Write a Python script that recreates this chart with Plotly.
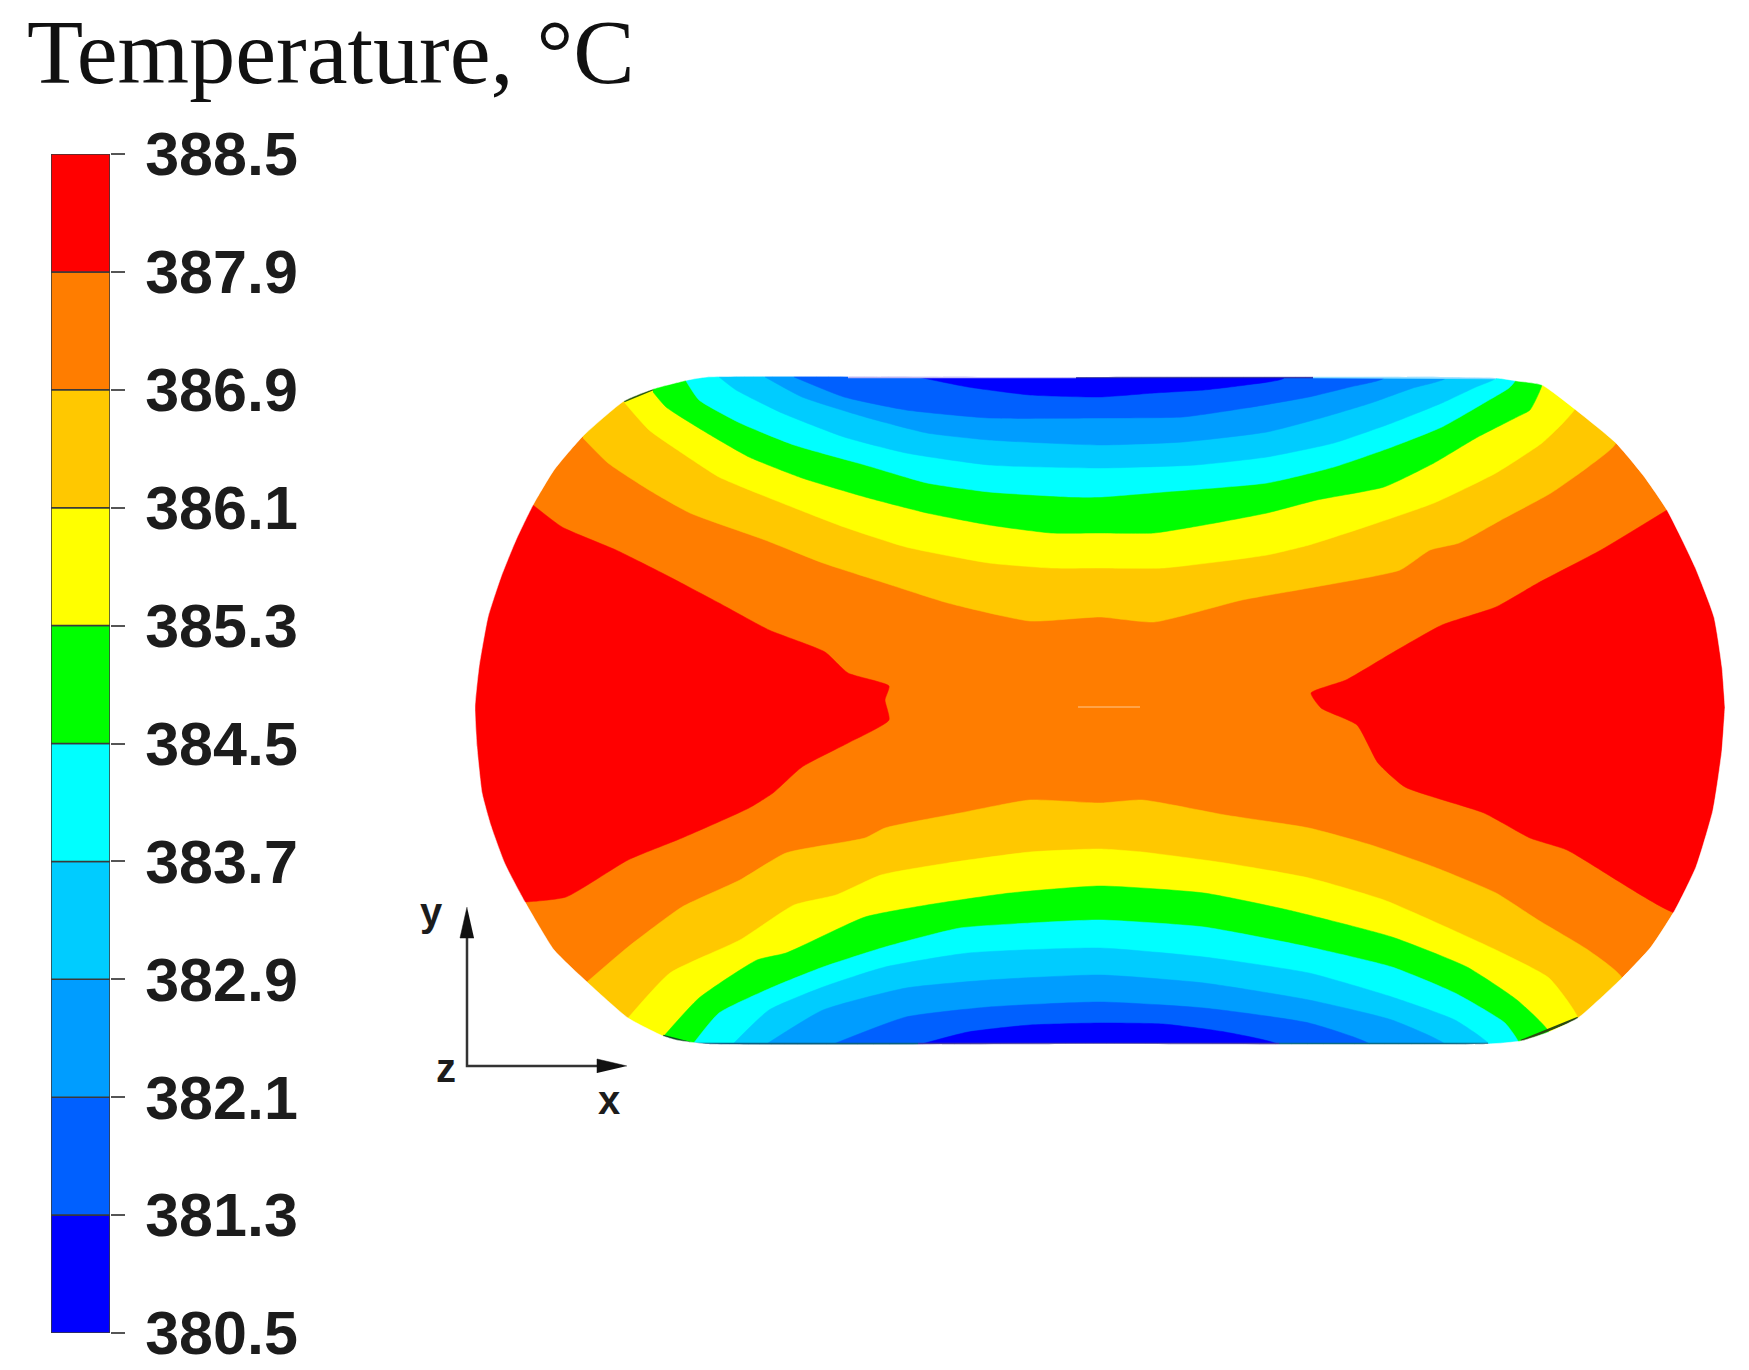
import plotly.graph_objects as go

# contour band values, bottom to top of the colour bar
levels = ["380.5", "381.3", "382.1", "382.9", "383.7", "384.5", "385.3", "386.1", "386.9", "387.9", "388.5"]
band_colors = ["#0000ff", "#0060ff", "#009dff", "#00ccff", "#00ffff", "#00ff00", "#ffff00", "#ffc800", "#ff7d00", "#ff0000"]
band_steps = [1] * 10

# outline of the section in image units
rim_top = [(475, 707), (479, 667), (488, 617), (501, 577), (516, 540), (533, 505), (554, 470), (583, 436),
           (624, 401), (653, 389), (688, 380), (707, 377), (1000, 377), (1496, 378), (1517, 381), (1542, 385),
           (1576, 410), (1616, 443), (1643, 475), (1667, 510), (1695, 567), (1714, 617), (1722, 667), (1725, 707)]
rim_bottom = [(475, 707), (477, 747), (482, 793), (491, 826), (505, 864), (525, 902), (554, 950), (587, 982),
              (628, 1018), (663, 1036), (676, 1040), (707, 1044), (1100, 1044), (1488, 1044), (1521, 1041),
              (1549, 1032), (1578, 1018), (1622, 978), (1651, 947), (1675, 910), (1696, 867), (1713, 810),
              (1722, 750), (1725, 707)]
mask_frame = [(400, 280), (400, 1120), (1780, 1120), (1780, 280)]

# hot wedges left and right (387.9 contour)
wedge_left = [(533, 505), (562, 527), (616, 550), (666, 575), (719, 603), (769, 630), (825, 652), (848, 673),
              (889, 686), (885, 700), (889, 720), (848, 743), (802, 767), (773, 793), (749, 808), (682, 838),
              (628, 860), (566, 897), (525, 902)]
wedge_right = [(1667, 510), (1601, 550), (1538, 583), (1496, 607), (1442, 625), (1392, 653), (1346, 680),
               (1311, 693), (1321, 708), (1357, 725), (1378, 763), (1405, 787), (1484, 813), (1530, 838),
               (1567, 850), (1675, 913)]

# contours of the upper half, warm to cold
top_386_9 = [(583, 438), (608, 463), (649, 490), (690, 513), (765, 540), (823, 563), (885, 583), (948, 603),
             (1030, 621), (1100, 617), (1154, 622), (1242, 600), (1309, 588), (1400, 570), (1430, 550),
             (1459, 543), (1501, 520), (1551, 493), (1588, 467), (1616, 443)]
top_386_1 = [(624, 402), (649, 430), (682, 453), (719, 477), (782, 503), (844, 527), (906, 547), (989, 563),
             (1051, 568), (1100, 568), (1163, 568), (1267, 555), (1309, 545), (1371, 525), (1434, 503),
             (1496, 473), (1542, 443), (1563, 423), (1576, 407)]
top_385_3 = [(653, 392), (666, 407), (707, 433), (749, 457), (802, 478), (865, 497), (927, 513), (989, 525),
             (1051, 533), (1100, 533), (1154, 533), (1204, 525), (1267, 513), (1317, 500), (1384, 487),
             (1434, 463), (1476, 438), (1517, 417), (1530, 410), (1542, 385)]
top_384_5 = [(686, 381), (699, 400), (740, 423), (794, 445), (865, 465), (927, 483), (989, 492), (1072, 497),
             (1100, 497), (1163, 492), (1267, 483), (1334, 467), (1392, 447), (1442, 427), (1484, 403),
             (1509, 388), (1515, 381)]
top_383_7 = [(719, 377), (736, 390), (782, 413), (844, 437), (906, 453), (989, 465), (1100, 468), (1196, 465),
             (1267, 457), (1334, 443), (1392, 423), (1442, 403), (1476, 387), (1496, 378)]
top_382_9 = [(765, 377), (802, 397), (865, 417), (927, 433), (989, 440), (1100, 445), (1183, 442), (1267, 432),
             (1321, 418), (1371, 403), (1413, 388), (1446, 378)]
top_382_1 = [(794, 377), (844, 397), (906, 410), (989, 418), (1100, 418), (1183, 417), (1246, 408), (1309, 397),
             (1350, 387), (1384, 378)]
top_381_3 = [(918, 377), (968, 387), (1030, 395), (1100, 397), (1154, 393), (1204, 390), (1246, 385), (1284, 378)]

# contours of the lower half
bot_386_9 = [(587, 982), (628, 947), (682, 907), (740, 880), (786, 853), (865, 838), (885, 828), (960, 813),
             (1030, 800), (1100, 803), (1142, 800), (1225, 815), (1309, 828), (1371, 845), (1434, 867),
             (1496, 893), (1538, 920), (1588, 950), (1622, 978)]
bot_386_1 = [(628, 1018), (670, 973), (740, 940), (794, 905), (836, 895), (881, 875), (948, 863), (1030, 852),
             (1100, 849), (1142, 852), (1225, 863), (1309, 878), (1384, 900), (1446, 927), (1496, 950),
             (1549, 978), (1578, 1018)]
bot_385_3 = [(663, 1037), (699, 998), (757, 960), (786, 953), (865, 917), (927, 905), (1010, 893), (1100, 886),
             (1204, 893), (1288, 910), (1392, 937), (1467, 967), (1517, 1000), (1549, 1032)]
bot_384_5 = [(693, 1044), (719, 1013), (773, 987), (823, 967), (885, 947), (960, 928), (1030, 923), (1100, 920),
             (1204, 927), (1309, 947), (1392, 967), (1455, 993), (1505, 1023), (1519, 1043)]
bot_383_7 = [(732, 1045), (769, 1010), (823, 987), (885, 967), (968, 953), (1100, 948), (1204, 957), (1309, 973),
             (1392, 997), (1455, 1020), (1490, 1045)]
bot_382_9 = [(765, 1045), (823, 1010), (906, 988), (989, 980), (1100, 975), (1204, 983), (1309, 1000),
             (1392, 1020), (1446, 1045)]
bot_382_1 = [(831, 1045), (906, 1017), (989, 1007), (1100, 1002), (1204, 1008), (1309, 1023), (1371, 1045)]
bot_381_3 = [(918, 1045), (968, 1032), (1030, 1025), (1100, 1023), (1163, 1024), (1225, 1032), (1279, 1045)]

top_curves = [top_386_9, top_386_1, top_385_3, top_384_5, top_383_7, top_382_9, top_382_1, top_381_3]
bot_curves = [bot_386_9, bot_386_1, bot_385_3, bot_384_5, bot_383_7, bot_382_9, bot_382_1, bot_381_3]
cap_colors = band_colors[7::-1]

slit = [(1078, 707), (1140, 707)]
axis_y = [(467, 925), (467, 1066), (610, 1066)]
head_y = [(467, 907), (460, 938), (474, 938)]
head_x = [(627, 1066), (597, 1059), (597, 1073)]

# thin dark remains of the mesh edge along the rim
edge_segments = [([(693, 1044), (918, 1044)], "#0a5f80"), ([(918, 1044), (1279, 1044)], "#40389c"),
                 ([(1279, 1044), (1488, 1044)], "#0a6a85"), ([(1521, 1041), (1578, 1018)], "#2a4a10"),
                 ([(663, 1036), (690, 1043)], "#0a5020"), ([(624, 401), (653, 389)], "#2a5a10"),
                 ([(848, 377), (1076, 377)], "#b8b0f0"), ([(1076, 377), (1313, 377)], "#20209a"),
                 ([(1313, 377), (1496, 378)], "#80d8ff")]


def add_line(fig, pts, color, width):
    fig.add_trace(go.Scatter(x=[p[0] for p in pts], y=[p[1] for p in pts], mode="lines",
                             line=dict(color=color, width=width), hoverinfo="skip"))


def add_area(fig, xs, ys, color, shape="spline"):
    fig.add_trace(go.Scatter(x=xs, y=ys, mode="lines", fill="toself", fillcolor=color,
                             line=dict(color=color, width=0.5, shape=shape, smoothing=0.5), hoverinfo="skip"))


def add_poly(fig, pts, color, shape="spline"):
    add_area(fig, [p[0] for p in pts], [p[1] for p in pts], color, shape)


fig = go.Figure()

# everything is drawn a bit past the rim, the white mask below trims it
outline = rim_top + rim_bottom[::-1]
add_poly(fig, outline, band_colors[8])
add_poly(fig, wedge_left + [(450, wedge_left[-1][1]), (450, wedge_left[0][1])], band_colors[9])
add_poly(fig, wedge_right + [(1745, wedge_right[-1][1]), (1745, wedge_right[0][1])], band_colors[9])

for curve, color in zip(top_curves, cap_colors):
    add_poly(fig, curve + [(curve[-1][0], 360), (curve[0][0], 360)], color)
for curve, color in zip(bot_curves, cap_colors):
    add_poly(fig, curve + [(curve[-1][0], 1058), (curve[0][0], 1058)], color)

add_line(fig, slit, "#ffb060", 1.5)
for seg, color in edge_segments:
    add_line(fig, seg, color, 2.5)

# white surround with the section as its hole
mask_x = [p[0] for p in mask_frame] + [None] + [p[0] for p in outline]
mask_y = [p[1] for p in mask_frame] + [None] + [p[1] for p in outline]
add_area(fig, mask_x, mask_y, "white")

# x-y triad
add_line(fig, axis_y, "#333333", 2.5)
add_poly(fig, head_y, "#111111", "linear")
add_poly(fig, head_x, "#111111", "linear")

# colour bar
fig.add_trace(go.Bar(x=[0] * 10, y=band_steps, base=list(range(10)), width=1,
                     marker=dict(color=band_colors, line=dict(color="#3a3a3a", width=1.5)),
                     xaxis="x2", yaxis="y2", hoverinfo="skip", cliponaxis=False))

fig.update_layout(
    width=1749, height=1370, autosize=False,
    margin=dict(l=0, r=0, t=0, b=0),
    paper_bgcolor="white", plot_bgcolor="white",
    showlegend=False,
    xaxis=dict(range=[0, 1749], visible=False, domain=[0, 1], automargin=False),
    yaxis=dict(range=[1370, 0], visible=False, domain=[0, 1], automargin=False),
    xaxis2=dict(range=[-0.5, 0.5], visible=False, domain=[51 / 1749, 110 / 1749], anchor="y2", automargin=False),
    yaxis2=dict(range=[0, 10], domain=[37 / 1370, 1216 / 1370], anchor="x2", side="right", showgrid=False,
                zeroline=False, showline=False, tickmode="array", tickvals=list(range(11)), ticktext=levels,
                ticks="outside", ticklen=14, tickwidth=1.5, tickcolor="#555555", ticklabelstandoff=8,
                automargin=False,
                tickfont=dict(family="Liberation Sans", size=61, color="#1c1c1c", weight=700)),
    annotations=[
        dict(text="Temperature, °C", x=25, y=52, xref="x", yref="y", xanchor="left", yanchor="middle", showarrow=False,
             font=dict(family="Liberation Serif", size=92, color="#111111")),
        dict(text="y", x=431, y=912, xref="x", yref="y", showarrow=False,
             font=dict(family="Liberation Sans", size=40, color="#1c1c1c", weight=700)),
        dict(text="z", x=446, y=1068, xref="x", yref="y", showarrow=False,
             font=dict(family="Liberation Sans", size=40, color="#1c1c1c", weight=700)),
        dict(text="x", x=609, y=1100, xref="x", yref="y", showarrow=False,
             font=dict(family="Liberation Sans", size=40, color="#1c1c1c", weight=700)),
    ],
)

fig.write_html("out.html", config=dict(displayModeBar=False), post_script="document.body.style.margin = '0';")
